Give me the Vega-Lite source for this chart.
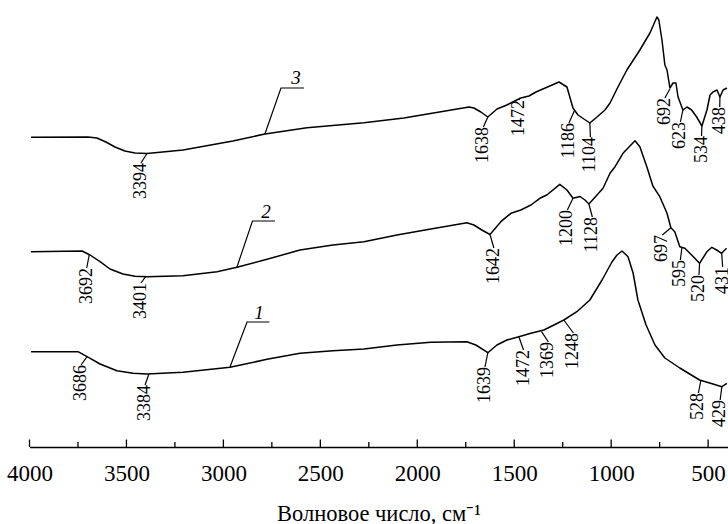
{
  "$schema": "https://vega.github.io/schema/vega-lite/v6.json",
  "width": 698,
  "height": 447,
  "autosize": {"type": "none"},
  "padding": {"left": 29.5, "right": 0.5, "top": 0, "bottom": 77},
  "background": "white",
  "view": {"stroke": null},
  "config": {
    "font": "Times New Roman, Liberation Serif, serif",
    "axis": {"labelFont": "Times New Roman, Liberation Serif, serif", "titleFont": "Times New Roman, Liberation Serif, serif"}
  },
  "datasets": {
    "curves": [
      {"s": "3", "wn": 3992, "T": 309.7}, {"s": "3", "wn": 3698, "T": 310}, {"s": "3", "wn": 3652, "T": 309}, {"s": "3", "wn": 3606, "T": 305}, {"s": "3", "wn": 3559, "T": 300}, {"s": "3", "wn": 3508, "T": 296}, {"s": "3", "wn": 3456, "T": 294}, {"s": "3", "wn": 3394, "T": 293.5}, {"s": "3", "wn": 3208, "T": 297}, {"s": "3", "wn": 2951, "T": 306}, {"s": "3", "wn": 2786, "T": 313}, {"s": "3", "wn": 2569, "T": 319.3}, {"s": "3", "wn": 2275, "T": 324.3}, {"s": "3", "wn": 2069, "T": 329}, {"s": "3", "wn": 1733, "T": 340}, {"s": "3", "wn": 1708, "T": 339}, {"s": "3", "wn": 1672, "T": 335}, {"s": "3", "wn": 1636, "T": 330}, {"s": "3", "wn": 1589, "T": 338}, {"s": "3", "wn": 1538, "T": 342}, {"s": "3", "wn": 1466, "T": 349}, {"s": "3", "wn": 1424, "T": 351}, {"s": "3", "wn": 1388, "T": 355}, {"s": "3", "wn": 1269, "T": 365}, {"s": "3", "wn": 1228, "T": 360}, {"s": "3", "wn": 1197, "T": 339}, {"s": "3", "wn": 1171, "T": 332}, {"s": "3", "wn": 1110, "T": 324}, {"s": "3", "wn": 1073, "T": 330}, {"s": "3", "wn": 1032, "T": 337}, {"s": "3", "wn": 1006, "T": 344}, {"s": "3", "wn": 965, "T": 360}, {"s": "3", "wn": 919, "T": 377}, {"s": "3", "wn": 852, "T": 397}, {"s": "3", "wn": 800, "T": 414}, {"s": "3", "wn": 764, "T": 430}, {"s": "3", "wn": 754, "T": 427}, {"s": "3", "wn": 738, "T": 407}, {"s": "3", "wn": 723, "T": 382}, {"s": "3", "wn": 712, "T": 377}, {"s": "3", "wn": 697, "T": 359}, {"s": "3", "wn": 681, "T": 364}, {"s": "3", "wn": 666, "T": 364}, {"s": "3", "wn": 655, "T": 350}, {"s": "3", "wn": 630, "T": 337}, {"s": "3", "wn": 609, "T": 340}, {"s": "3", "wn": 585, "T": 337}, {"s": "3", "wn": 559, "T": 330}, {"s": "3", "wn": 532, "T": 321}, {"s": "3", "wn": 506, "T": 337}, {"s": "3", "wn": 490, "T": 352}, {"s": "3", "wn": 475, "T": 355}, {"s": "3", "wn": 454, "T": 357}, {"s": "3", "wn": 439, "T": 350}, {"s": "3", "wn": 423, "T": 357}, {"s": "3", "wn": 403, "T": 359},
      {"s": "2", "wn": 3992, "T": 195.3}, {"s": "2", "wn": 3729, "T": 196}, {"s": "2", "wn": 3688, "T": 192}, {"s": "2", "wn": 3636, "T": 185.3}, {"s": "2", "wn": 3585, "T": 178}, {"s": "2", "wn": 3518, "T": 173}, {"s": "2", "wn": 3456, "T": 170.7}, {"s": "2", "wn": 3394, "T": 170.3}, {"s": "2", "wn": 3208, "T": 171.3}, {"s": "2", "wn": 3033, "T": 175.3}, {"s": "2", "wn": 2930, "T": 179.7}, {"s": "2", "wn": 2775, "T": 187.7}, {"s": "2", "wn": 2605, "T": 197}, {"s": "2", "wn": 2435, "T": 202}, {"s": "2", "wn": 2275, "T": 205.3}, {"s": "2", "wn": 2105, "T": 212}, {"s": "2", "wn": 1930, "T": 218}, {"s": "2", "wn": 1744, "T": 224.3}, {"s": "2", "wn": 1708, "T": 222}, {"s": "2", "wn": 1667, "T": 217}, {"s": "2", "wn": 1625, "T": 212.5}, {"s": "2", "wn": 1569, "T": 225.3}, {"s": "2", "wn": 1517, "T": 233.7}, {"s": "2", "wn": 1466, "T": 237}, {"s": "2", "wn": 1414, "T": 242}, {"s": "2", "wn": 1368, "T": 248.7}, {"s": "2", "wn": 1332, "T": 252}, {"s": "2", "wn": 1265, "T": 262.7}, {"s": "2", "wn": 1228, "T": 257}, {"s": "2", "wn": 1197, "T": 248.7}, {"s": "2", "wn": 1161, "T": 250.5}, {"s": "2", "wn": 1135, "T": 247}, {"s": "2", "wn": 1115, "T": 243}, {"s": "2", "wn": 1073, "T": 252}, {"s": "2", "wn": 1042, "T": 258.7}, {"s": "2", "wn": 1006, "T": 273.7}, {"s": "2", "wn": 980, "T": 280.3}, {"s": "2", "wn": 939, "T": 293.7}, {"s": "2", "wn": 877, "T": 306.3}, {"s": "2", "wn": 852, "T": 300.3}, {"s": "2", "wn": 816, "T": 280.3}, {"s": "2", "wn": 785, "T": 261}, {"s": "2", "wn": 749, "T": 250.3}, {"s": "2", "wn": 712, "T": 233.7}, {"s": "2", "wn": 692, "T": 219.3}, {"s": "2", "wn": 672, "T": 215.3}, {"s": "2", "wn": 646, "T": 200.3}, {"s": "2", "wn": 620, "T": 198.7}, {"s": "2", "wn": 585, "T": 192}, {"s": "2", "wn": 544, "T": 183.7}, {"s": "2", "wn": 506, "T": 195.3}, {"s": "2", "wn": 481, "T": 199.7}, {"s": "2", "wn": 456, "T": 197}, {"s": "2", "wn": 430, "T": 193.7}, {"s": "2", "wn": 405, "T": 198.7},
      {"s": "1", "wn": 3992, "T": 95.3}, {"s": "1", "wn": 3750, "T": 95.3}, {"s": "1", "wn": 3703, "T": 90.3}, {"s": "1", "wn": 3636, "T": 83}, {"s": "1", "wn": 3549, "T": 76.3}, {"s": "1", "wn": 3466, "T": 73.7}, {"s": "1", "wn": 3394, "T": 73}, {"s": "1", "wn": 3208, "T": 74.7}, {"s": "1", "wn": 2966, "T": 79.7}, {"s": "1", "wn": 2775, "T": 87.7}, {"s": "1", "wn": 2605, "T": 93.7}, {"s": "1", "wn": 2435, "T": 96.3}, {"s": "1", "wn": 2275, "T": 98}, {"s": "1", "wn": 2105, "T": 102}, {"s": "1", "wn": 1930, "T": 104.7}, {"s": "1", "wn": 1744, "T": 105.3}, {"s": "1", "wn": 1698, "T": 102}, {"s": "1", "wn": 1636, "T": 94.3}, {"s": "1", "wn": 1589, "T": 102}, {"s": "1", "wn": 1538, "T": 107}, {"s": "1", "wn": 1476, "T": 110.3}, {"s": "1", "wn": 1414, "T": 113.7}, {"s": "1", "wn": 1347, "T": 117}, {"s": "1", "wn": 1295, "T": 122}, {"s": "1", "wn": 1244, "T": 127}, {"s": "1", "wn": 1177, "T": 135.3}, {"s": "1", "wn": 1110, "T": 147}, {"s": "1", "wn": 1047, "T": 167}, {"s": "1", "wn": 996, "T": 185}, {"s": "1", "wn": 970, "T": 192}, {"s": "1", "wn": 944, "T": 196}, {"s": "1", "wn": 913, "T": 190.3}, {"s": "1", "wn": 887, "T": 174}, {"s": "1", "wn": 862, "T": 147}, {"s": "1", "wn": 820, "T": 122}, {"s": "1", "wn": 774, "T": 102}, {"s": "1", "wn": 723, "T": 89}, {"s": "1", "wn": 646, "T": 79}, {"s": "1", "wn": 544, "T": 67}, {"s": "1", "wn": 475, "T": 63}, {"s": "1", "wn": 429, "T": 60.3}, {"s": "1", "wn": 403, "T": 63.7}
    ],
    "peaks": [
      {"s": "3", "label": "3394", "wn": 3394, "T": 293.5, "twn": 3425, "tT": 284},
      {"s": "3", "label": "1638", "wn": 1636, "T": 330, "twn": 1659, "tT": 320},
      {"s": "3", "label": "1472", "wn": 1470, "T": 349, "twn": 1476, "tT": 347},
      {"s": "3", "label": "1186", "wn": 1190, "T": 336, "twn": 1218, "tT": 324},
      {"s": "3", "label": "1104", "wn": 1110, "T": 324, "twn": 1107, "tT": 310},
      {"s": "3", "label": "692", "wn": 697, "T": 358, "twn": 723, "tT": 349},
      {"s": "3", "label": "623", "wn": 630, "T": 337, "twn": 643, "tT": 325},
      {"s": "3", "label": "534", "wn": 532, "T": 321, "twn": 534, "tT": 311},
      {"s": "3", "label": "438", "wn": 439, "T": 350, "twn": 440, "tT": 340},
      {"s": "2", "label": "3692", "wn": 3692, "T": 192, "twn": 3705, "tT": 179},
      {"s": "2", "label": "3401", "wn": 3401, "T": 170.3, "twn": 3425, "tT": 164},
      {"s": "2", "label": "1642", "wn": 1625, "T": 212.5, "twn": 1605, "tT": 199},
      {"s": "2", "label": "1200", "wn": 1197, "T": 248.7, "twn": 1226, "tT": 237},
      {"s": "2", "label": "1128", "wn": 1115, "T": 243, "twn": 1097, "tT": 230},
      {"s": "2", "label": "697", "wn": 692, "T": 219.3, "twn": 736, "tT": 212},
      {"s": "2", "label": "595", "wn": 635, "T": 200, "twn": 643, "tT": 187},
      {"s": "2", "label": "520", "wn": 544, "T": 183.7, "twn": 547, "tT": 172},
      {"s": "2", "label": "431", "wn": 430, "T": 193.7, "twn": 425, "tT": 180},
      {"s": "1", "label": "3686", "wn": 3703, "T": 90.3, "twn": 3734, "tT": 82},
      {"s": "1", "label": "3384", "wn": 3384, "T": 73, "twn": 3404, "tT": 62},
      {"s": "1", "label": "1639", "wn": 1636, "T": 94.3, "twn": 1651, "tT": 80},
      {"s": "1", "label": "1472", "wn": 1476, "T": 110.3, "twn": 1452, "tT": 97},
      {"s": "1", "label": "1369", "wn": 1359, "T": 115.3, "twn": 1324, "tT": 105},
      {"s": "1", "label": "1248", "wn": 1244, "T": 127, "twn": 1195, "tT": 114},
      {"s": "1", "label": "528", "wn": 537, "T": 67, "twn": 550, "tT": 54},
      {"s": "1", "label": "429", "wn": 429, "T": 60.3, "twn": 438, "tT": 47}
    ],
    "leaders": [
      {"s": "3", "ord": 1, "wn": 2786, "T": 313}, {"s": "3", "ord": 2, "wn": 2703, "T": 359}, {"s": "3", "ord": 3, "wn": 2584, "T": 359},
      {"s": "2", "ord": 1, "wn": 2930, "T": 180}, {"s": "2", "ord": 2, "wn": 2850, "T": 226}, {"s": "2", "ord": 3, "wn": 2734, "T": 226},
      {"s": "1", "ord": 1, "wn": 2966, "T": 80}, {"s": "1", "ord": 2, "wn": 2878, "T": 125}, {"s": "1", "ord": 3, "wn": 2763, "T": 125}
    ],
    "curveLabels": [
      {"s": "3", "wn": 2626, "T": 369.5},
      {"s": "2", "wn": 2780, "T": 235},
      {"s": "1", "wn": 2816, "T": 134.5}
    ],
    "ticks": [
      {"wn": 4000, "base": 0, "len": 7.5}, {"wn": 3750, "base": 0, "len": 5}, {"wn": 3500, "base": 0, "len": 7.5}, {"wn": 3250, "base": 0, "len": 5},
      {"wn": 3000, "base": 0, "len": 7.5}, {"wn": 2750, "base": 0, "len": 5}, {"wn": 2500, "base": 0, "len": 7.5}, {"wn": 2250, "base": 0, "len": 5},
      {"wn": 2000, "base": 0, "len": 7.5}, {"wn": 1750, "base": 0, "len": 5}, {"wn": 1500, "base": 0, "len": 7.5}, {"wn": 1250, "base": 0, "len": 5},
      {"wn": 1000, "base": 0, "len": 7.5}, {"wn": 750, "base": 0, "len": 5}, {"wn": 500, "base": 0, "len": 7.5}
    ]
  },
  "layer": [
    {
      "data": {"name": "ticks"},
      "mark": {"type": "rule", "color": "black", "strokeWidth": 1.3},
      "encoding": {
        "x": {"field": "wn", "type": "quantitative",
          "scale": {"domain": [400, 4000], "reverse": true, "nice": false, "zero": false},
          "axis": {
            "values": [4000, 3500, 3000, 2500, 2000, 1500, 1000, 500],
            "format": "d",
            "grid": false,
            "ticks": false,
            "tickSize": 0,
            "domain": true,
            "domainColor": "black",
            "domainWidth": 1.5,
            "labelFont": "Times New Roman, Liberation Serif, serif",
            "labelFontSize": 23,
            "labelColor": "black",
            "labelBaseline": "alphabetic",
            "labelPadding": 33,
            "labelOverlap": false,
            "labelFlush": false,
            "title": "Волновое число, см⁻¹",
            "titleFont": "Times New Roman, Liberation Serif, serif",
            "titleFontSize": 22.5,
            "titleFontWeight": "normal",
            "titleColor": "black",
            "titleBaseline": "alphabetic",
            "titleY": 73
          }
        },
        "y": {"field": "base", "type": "quantitative",
          "scale": {"domain": [0, 447], "nice": false, "zero": false}, "axis": null},
        "y2": {"field": "len"}
      }
    },
    {
      "data": {"name": "curves"},
      "mark": {"type": "line", "color": "black", "strokeWidth": 1.5, "strokeJoin": "round"},
      "encoding": {
        "x": {"field": "wn", "type": "quantitative"},
        "y": {"field": "T", "type": "quantitative"},
        "detail": {"field": "s"}
      }
    },
    {
      "data": {"name": "peaks"},
      "mark": {"type": "rule", "color": "black", "strokeWidth": 1.2},
      "encoding": {
        "x": {"field": "wn", "type": "quantitative"},
        "y": {"field": "T", "type": "quantitative"},
        "x2": {"field": "twn"},
        "y2": {"field": "tT"}
      }
    },
    {
      "data": {"name": "peaks"},
      "mark": {"type": "text", "angle": 270, "align": "right", "baseline": "middle",
        "font": "Times New Roman, Liberation Serif, serif", "fontSize": 18, "color": "black"},
      "encoding": {
        "x": {"field": "twn", "type": "quantitative"},
        "y": {"field": "tT", "type": "quantitative"},
        "text": {"field": "label"}
      }
    },
    {
      "data": {"name": "leaders"},
      "mark": {"type": "line", "color": "black", "strokeWidth": 1.2},
      "encoding": {
        "x": {"field": "wn", "type": "quantitative"},
        "y": {"field": "T", "type": "quantitative"},
        "detail": {"field": "s"},
        "order": {"field": "ord"}
      }
    },
    {
      "data": {"name": "curveLabels"},
      "mark": {"type": "text", "align": "center", "baseline": "middle",
        "font": "Times New Roman, Liberation Serif, serif", "fontSize": 19, "fontStyle": "italic", "color": "black"},
      "encoding": {
        "x": {"field": "wn", "type": "quantitative"},
        "y": {"field": "T", "type": "quantitative"},
        "text": {"field": "s"}
      }
    }
  ]
}
